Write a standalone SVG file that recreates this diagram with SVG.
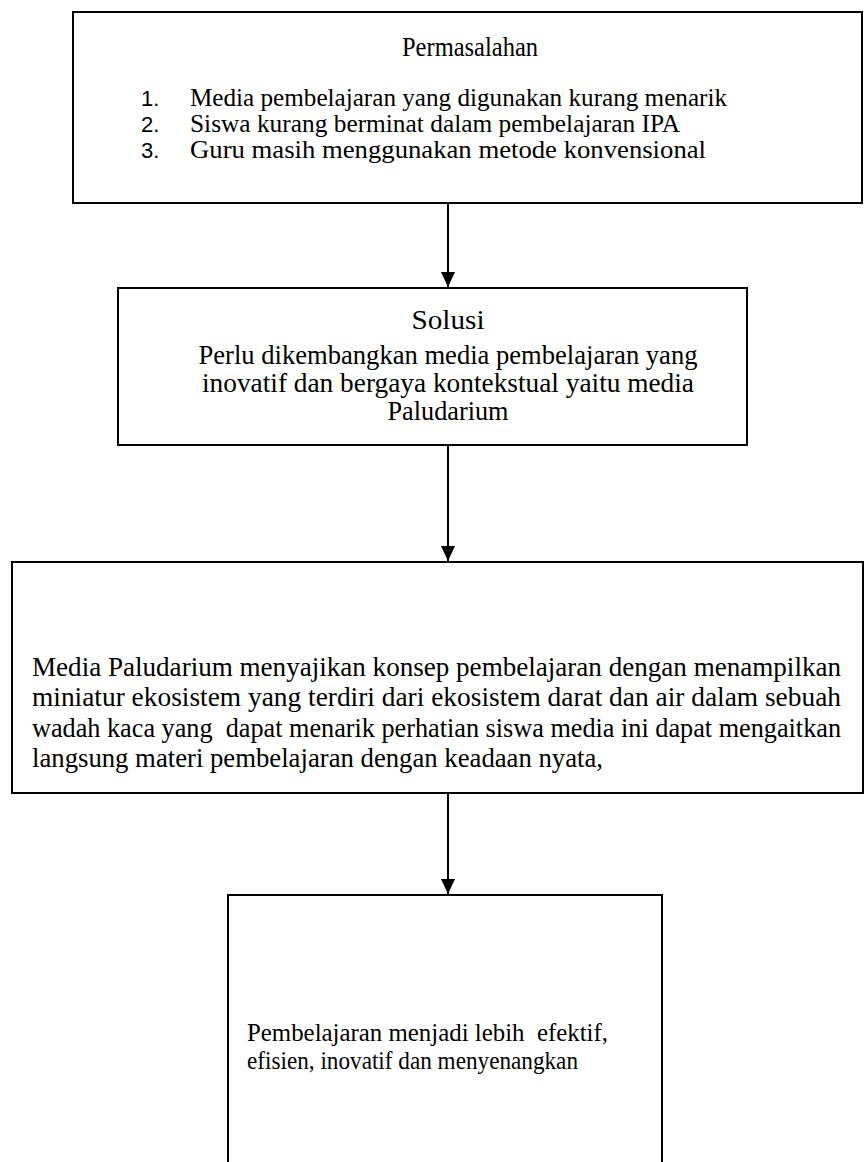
<svg xmlns="http://www.w3.org/2000/svg" width="865" height="1162" viewBox="0 0 865 1162">
<style>
.box{fill:#fff;stroke:#000;stroke-width:2}
.t{font-family:"Liberation Serif","Times New Roman",serif;font-size:27px;fill:#000;white-space:pre}
.s{font-size:25px}
.n{font-family:"Liberation Sans",Arial,sans-serif;font-size:22px;fill:#000}
.c{text-anchor:middle}
.ln{stroke:#000;stroke-width:2;fill:none}
</style>
<defs>
<marker id="ah" markerUnits="userSpaceOnUse" markerWidth="16" markerHeight="16" viewBox="0 0 16 16" refX="15" refY="8" orient="auto">
<path d="M0,1 L15,8 L0,15 Z" fill="#000"/>
</marker>
</defs>
<g id="connectors">
<line class="ln" x1="448" y1="203" x2="448" y2="287" marker-end="url(#ah)"/>
<line class="ln" x1="448" y1="445" x2="448" y2="561" marker-end="url(#ah)"/>
<line class="ln" x1="448" y1="793" x2="448" y2="894" marker-end="url(#ah)"/>
</g>
<g id="permasalahan">
<rect class="box" x="73" y="12" width="789" height="191"/>
<text class="t c" x="470" y="56" textLength="136" lengthAdjust="spacingAndGlyphs">Permasalahan</text>
<text class="n" x="141" y="106">1.</text>
<text class="n" x="141" y="132">2.</text>
<text class="n" x="141" y="158">3.</text>
<text class="t s" x="190" y="106" textLength="537" lengthAdjust="spacingAndGlyphs">Media pembelajaran yang digunakan kurang menarik</text>
<text class="t s" x="190" y="132" textLength="490" lengthAdjust="spacingAndGlyphs">Siswa kurang berminat dalam pembelajaran IPA</text>
<text class="t s" x="190" y="158" textLength="516" lengthAdjust="spacingAndGlyphs">Guru masih menggunakan metode konvensional</text>
</g>
<g id="solusi">
<rect class="box" x="118" y="288" width="629" height="157"/>
<text class="t c" x="448" y="329" textLength="73" lengthAdjust="spacingAndGlyphs">Solusi</text>
<text class="t c" x="448" y="364" textLength="499" lengthAdjust="spacingAndGlyphs">Perlu dikembangkan media pembelajaran yang</text>
<text class="t c" x="448" y="392" textLength="492" lengthAdjust="spacingAndGlyphs">inovatif dan bergaya kontekstual yaitu media</text>
<text class="t c" x="448" y="420" textLength="121" lengthAdjust="spacingAndGlyphs">Paludarium</text>
</g>
<g id="paludarium">
<rect class="box" x="12" y="562" width="851" height="231"/>
<text class="t" x="32" y="676" textLength="809" lengthAdjust="spacingAndGlyphs">Media Paludarium menyajikan konsep pembelajaran dengan menampilkan</text>
<text class="t" x="32" y="706" textLength="809" lengthAdjust="spacingAndGlyphs">miniatur ekosistem yang terdiri dari ekosistem darat dan air dalam sebuah</text>
<text class="t" x="32" y="737" textLength="809" lengthAdjust="spacingAndGlyphs">wadah kaca yang  dapat menarik perhatian siswa media ini dapat mengaitkan</text>
<text class="t" x="32" y="767" textLength="571" lengthAdjust="spacingAndGlyphs">langsung materi pembelajaran dengan keadaan nyata,</text>
</g>
<g id="hasil">
<rect class="box" x="228" y="895" width="434" height="300"/>
<text class="t s" x="247" y="1041" textLength="361" lengthAdjust="spacingAndGlyphs">Pembelajaran menjadi lebih  efektif,</text>
<text class="t s" x="247" y="1069" textLength="331" lengthAdjust="spacingAndGlyphs">efisien, inovatif dan menyenangkan</text>
</g>
</svg>
